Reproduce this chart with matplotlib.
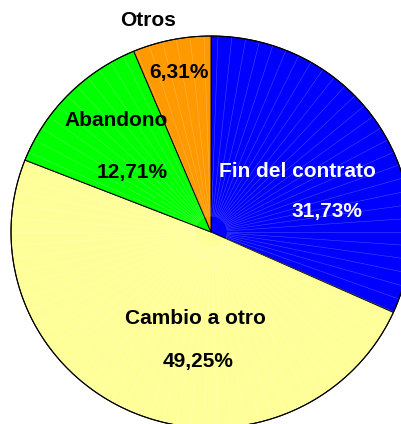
import numpy as np
import matplotlib
matplotlib.use('Agg')
import matplotlib.pyplot as plt

labels = ['Fin del contrato', 'Cambio a otro', 'Abandono', 'Otros']
values = [31.73, 49.25, 12.71, 6.31]
pct_text = ['31,73%', '49,25%', '12,71%', '6,31%']
colors = ['#0000FF', '#FFFF99', '#00FF00', '#FF9900']

W, H = 402, 424
cx, cy = 211, 232      # centre in pixels (from top)
rx, ry = 200, 196      # radii in pixels

fig = plt.figure(figsize=(W/100, H/100), dpi=100)
ax = fig.add_axes([0, 0, 1, 1])

wedges, _ = ax.pie(values, colors=colors, startangle=90, counterclock=False,
                   radius=1, wedgeprops=dict(edgecolor='black', linewidth=0.7))
ax.set_aspect('auto')
ax.set_xlim(-cx/rx, (W-cx)/rx)
ax.set_ylim(-(H-cy)/ry, cy/ry)
ax.axis('off')

# faint radial facet lines
for a in np.arange(0, 360, 4.0):
    t = np.deg2rad(a)
    ax.plot([0.08*np.cos(t), np.cos(t)], [0.08*np.sin(t), np.sin(t)],
            color='white', lw=0.4, alpha=0.28, zorder=3)
# redraw outer rim on top
th = np.linspace(0, 2*np.pi, 400)
ax.plot(np.cos(th), np.sin(th), color='black', lw=0.8, zorder=4)


def px(x, y):
    return (x - cx)/rx, (cy - y)/ry


font = dict(family='Liberation Sans', fontweight='bold', fontsize=15,
            ha='center', va='center', zorder=5)
ax.text(*px(148, 20), 'Otros', color='black', **font)
ax.text(*px(179, 72), pct_text[3], color='black', **font)
ax.text(*px(116, 120), labels[2], color='black', **font)
ax.text(*px(132, 172), pct_text[2], color='black', **font)
ax.text(*px(297, 171), labels[0], color='white', **font)
ax.text(*px(327, 211), pct_text[0], color='white', **font)
ax.text(*px(195, 318), labels[1], color='black', **font)
ax.text(*px(198, 361), pct_text[1], color='black', **font)

fig.savefig('out.png', dpi=100)
